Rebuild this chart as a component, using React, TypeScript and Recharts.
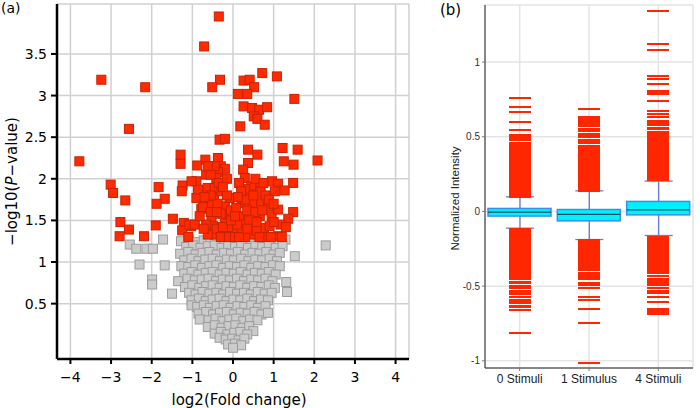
import React from 'react';
import { ScatterChart, Scatter, XAxis, YAxis, CartesianGrid, ComposedChart, Bar, Label } from 'recharts';

// ---------- Panel (a): volcano plot ----------
const significantPoints: [number, number][] = [
  [-0.35, 3.95], [-0.71, 3.59], [-3.24, 3.19], [-2.16, 3.1], [-0.32, 3.19], [-0.51, 3.1], [0.26, 3.18], [0.41, 3.19],
  [0.72, 3.27], [1.08, 3.23], [0.52, 3.1], [0.12, 3.02], [0.35, 3.02], [1.51, 2.96], [0.26, 2.87], [0.47, 2.85],
  [0.64, 2.83], [0.84, 2.86], [0.51, 2.75], [0.6, 2.72], [0.78, 2.65], [0.18, 2.63], [-2.56, 2.6], [-0.33, 2.47],
  [-0.2, 2.48], [1.22, 2.37], [1.59, 2.35], [0.37, 2.35], [0.6, 2.29], [-1.29, 2.29], [-1.29, 2.18], [-3.78, 2.21],
  [2.08, 2.22], [1.25, 2.21], [1.49, 2.17], [0.37, 2.19], [1.48, 1.95], [-3.01, 1.93], [-2.95, 1.83], [-1.83, 1.9],
  [-1.68, 1.76], [-1.88, 1.7], [-2.65, 1.74], [-1.24, 1.92], [-1.26, 1.85], [-2.77, 1.48], [-2.56, 1.39], [-2.79, 1.31],
  [-2.19, 1.31], [-1.9, 1.44], [-1.48, 1.52], [-1.21, 1.47], [-1.03, 1.43], [-1.25, 1.38], [-0.78, 1.64], [-0.9, 1.77],
  [1.48, 1.6], [1.36, 1.52], [1.11, 1.31], [1.17, 1.45],
  [-0.68, 2.23], [-0.37, 2.25], [-0.3, 2.15], [-0.2, 2.12], [-0.88, 2.16], [-0.66, 2.05], [-0.37, 2.08], [-0.41, 2.01],
  [-0.9, 1.97], [0.25, 2.11], [0.29, 2.01], [0.96, 1.97], [1.11, 1.94], [1.03, 1.85], [1.27, 1.86], [0.6, 1.89],
  [0.45, 1.91], [0.41, 1.81], [0.47, 1.71], [-0.62, 1.89], [-0.45, 1.89], [-0.47, 1.77], [-0.57, 1.69], [-0.86, 1.87],
  [-0.74, 1.66], [-1.07, 1.45], [-0.53, 1.53], [-0.49, 1.43], [-0.45, 1.33], [-0.2, 1.67], [-0.2, 1.49], [-0.22, 1.33],
  [-0.08, 1.77], [-0.12, 1.57], [0, 1.39], [0.21, 1.71], [0.16, 1.55], [0.25, 1.45], [0.21, 1.33], [0.37, 1.57],
  [0.45, 1.45], [0.49, 1.33], [0.7, 1.73], [0.66, 1.55], [0.76, 1.41], [0.86, 1.67], [0.95, 1.55], [0.9, 1.43],
  [1.11, 1.63], [-0.94, 1.45], [-0.66, 1.45], [-0.62, 1.33],
  [-0.35, 1.95], [-0.28, 1.85], [-0.15, 1.8], [-0.05, 1.62], [0.08, 1.65], [0.1, 1.45], [0.3, 1.88], [0.35, 1.62],
  [0.55, 1.6], [0.58, 1.38], [0.68, 1.85], [0.8, 1.8], [0.82, 1.3], [-0.3, 1.58], [-0.38, 1.7], [-0.55, 1.8],
  [-0.7, 1.78], [-0.4, 1.4], [-0.3, 1.3], [-0.1, 1.3], [0.05, 1.3], [0.3, 1.3], [0.65, 1.3], [-0.82, 1.55],
  [-0.72, 1.4], [0.3, 1.75], [0.15, 1.95], [0.2, 1.85], [-0.45, 2.15], [-0.55, 2.05], [0.55, 2.0], [0.75, 1.95],
  [0.88, 1.75], [1.0, 1.7], [-1.02, 1.97], [0.93, 1.3], [0.15, 1.3], [-0.62, 2.15], [-0.15, 2.0], [-0.25, 1.9],
  [0.4, 1.5], [0.58, 1.48], [0.72, 1.62], [1.0, 1.48], [-1.1, 1.3], [-0.55, 1.6], [-0.4, 1.6], [1.3, 1.42],
  [1.2, 1.3], [0.12, 1.78], [-0.12, 1.42], [0.35, 1.4], [-0.25, 1.42], [-0.05, 1.5], [0.5, 1.8], [0.05, 1.55],
];

const otherPoints: [number, number][] = [
  [-1.72, 1.27], [-1.28, 1.25], [-1.08, 1.27], [-0.9, 1.24], [-0.72, 1.26], [-0.55, 1.25], [-0.38, 1.27], [-0.2, 1.24],
  [-0.05, 1.26], [0.1, 1.25], [0.28, 1.27], [0.45, 1.24], [0.62, 1.26], [0.8, 1.25], [0.97, 1.27], [1.12, 1.24], [1.29, 1.27],
  [-2.54, 1.21], [-2.38, 1.16], [-2.13, 1.16], [-1.97, 1.16], [-1.15, 1.18], [-0.98, 1.2], [-0.8, 1.17], [-0.62, 1.19],
  [-0.45, 1.2], [-0.28, 1.17], [-0.12, 1.19], [0.05, 1.18], [0.2, 1.2], [0.37, 1.17], [0.55, 1.19], [0.72, 1.18],
  [0.88, 1.2], [1.05, 1.17], [1.22, 1.19], [2.28, 1.2],
  [-1.3, 1.1], [-1.1, 1.12], [-0.92, 1.09], [-0.75, 1.11], [-0.58, 1.12], [-0.4, 1.09], [-0.22, 1.11], [-0.05, 1.1],
  [0.12, 1.12], [0.3, 1.09], [0.48, 1.11], [0.65, 1.1], [0.82, 1.12], [1.0, 1.09], [1.15, 1.11], [1.52, 1.07],
  [-1.2, 1.02], [-1.02, 1.04], [-0.85, 1.01], [-0.68, 1.03], [-0.5, 1.04], [-0.32, 1.01], [-0.15, 1.03], [0.02, 1.02],
  [0.2, 1.04], [0.38, 1.01], [0.55, 1.03], [0.72, 1.02], [0.9, 1.04], [1.08, 1.01],
  [-2.3, 0.97], [-1.68, 0.96], [-1.27, 0.95], [-1.1, 0.94], [-0.93, 0.96], [-0.76, 0.93], [-0.58, 0.95], [-0.41, 0.96],
  [-0.24, 0.93], [-0.08, 0.95], [0.1, 0.94], [0.28, 0.96], [0.45, 0.93], [0.62, 0.95], [0.8, 0.94], [0.98, 0.96], [1.15, 0.95],
  [-1.2, 0.86], [-1.02, 0.88], [-0.85, 0.85], [-0.67, 0.87], [-0.5, 0.88], [-0.33, 0.85], [-0.16, 0.87], [0.02, 0.86],
  [0.19, 0.88], [0.36, 0.85], [0.54, 0.87], [0.71, 0.86], [0.88, 0.88], [1.05, 0.85],
  [-1.99, 0.79], [-1.35, 0.77], [-1.12, 0.8], [-0.94, 0.78], [-0.77, 0.79], [-0.6, 0.8], [-0.42, 0.77], [-0.25, 0.79],
  [-0.08, 0.78], [0.1, 0.8], [0.27, 0.77], [0.45, 0.79], [0.62, 0.78], [0.8, 0.8], [0.97, 0.77], [1.31, 0.76],
  [-1.99, 0.73], [-1.18, 0.7], [-1.0, 0.72], [-0.83, 0.69], [-0.66, 0.71], [-0.5, 0.72], [-0.33, 0.69], [-0.16, 0.71],
  [0.02, 0.7], [0.18, 0.72], [0.35, 0.69], [0.52, 0.71], [0.7, 0.7], [0.88, 0.72], [1.03, 0.69], [1.33, 0.64],
  [-1.5, 0.62], [-1.08, 0.63], [-0.92, 0.61], [-0.75, 0.64], [-0.58, 0.62], [-0.41, 0.63], [-0.24, 0.61], [-0.07, 0.64],
  [0.1, 0.62], [0.27, 0.63], [0.44, 0.61], [0.61, 0.64], [0.78, 0.62], [0.95, 0.63],
  [-1.02, 0.54], [-0.84, 0.56], [-0.67, 0.53], [-0.5, 0.55], [-0.33, 0.56], [-0.16, 0.53], [0.01, 0.55], [0.18, 0.54],
  [0.35, 0.56], [0.52, 0.53], [0.69, 0.55], [0.86, 0.54],
  [-1.02, 0.48], [-0.88, 0.46], [-0.72, 0.48], [-0.57, 0.45], [-0.4, 0.47], [-0.23, 0.48], [-0.06, 0.45], [0.11, 0.47],
  [0.28, 0.46], [0.45, 0.48], [0.62, 0.45], [0.8, 0.47],
  [-0.85, 0.38], [-0.66, 0.4], [-0.49, 0.37], [-0.32, 0.39], [-0.15, 0.4], [0.02, 0.37], [0.19, 0.39], [0.36, 0.38],
  [0.53, 0.4], [0.7, 0.37], [0.86, 0.39],
  [-0.82, 0.31], [-0.6, 0.3], [-0.43, 0.32], [-0.26, 0.29], [-0.09, 0.31], [0.08, 0.32], [0.25, 0.29], [0.42, 0.31], [0.6, 0.3],
  [-0.62, 0.22], [-0.45, 0.24], [-0.28, 0.21], [-0.11, 0.23], [0.06, 0.24], [0.23, 0.21], [0.4, 0.23], [0.5, 0.17],
  [-0.45, 0.14], [-0.3, 0.16], [-0.14, 0.13], [0.03, 0.15], [0.18, 0.16], [0.35, 0.13],
  [-0.33, 0.09], [-0.18, 0.07], [-0.02, 0.08], [0.14, 0.06], [0.28, 0.08],
  [-0.12, 0.01], [0.05, 0.02], [0.2, 0.0], [0.0, -0.03],
];

const volcanoXTicks = [-4, -3, -2, -1, 0, 1, 2, 3, 4];
const volcanoYTicks = [0.5, 1, 1.5, 2, 2.5, 3, 3.5];

// ---------- Panel (b): box plot ----------
const categories = ['0 Stimuli', '1 Stimulus', '4 Stimuli'];
const q1Values = [-0.031, -0.063, -0.023];
const medianValues = [-0.005, -0.02, 0.011];
const q3Values = [0.02, 0.013, 0.067];
const whiskerLowValues = [-0.112, -0.188, -0.161];
const whiskerHighValues = [0.098, 0.138, 0.203];

const outliers0Stimuli = [
  0.10, 0.11, 0.12, 0.13, 0.14, 0.15, 0.16, 0.17, 0.18, 0.19, 0.20, 0.21, 0.22, 0.23, 0.24, 0.25, 0.26, 0.27, 0.28, 0.29,
  0.30, 0.31, 0.32, 0.33, 0.34, 0.35, 0.36, 0.37, 0.38, 0.39, 0.405, 0.415, 0.425, 0.44, 0.45, 0.46, 0.475, 0.49, 0.50,
  0.51, 0.545, 0.60, 0.665, 0.698, 0.761,
  -0.12, -0.13, -0.14, -0.15, -0.16, -0.17, -0.18, -0.19, -0.20, -0.21, -0.22, -0.23, -0.24, -0.25, -0.26, -0.27, -0.28,
  -0.29, -0.30, -0.31, -0.32, -0.335, -0.345, -0.36, -0.37, -0.385, -0.40, -0.415, -0.425, -0.44, -0.455, -0.47, -0.48,
  -0.50, -0.51, -0.53, -0.545, -0.555, -0.575, -0.59, -0.60, -0.615, -0.63, -0.64, -0.66, -0.815,
];
const outliers1Stimulus = [
  0.14, 0.15, 0.16, 0.17, 0.18, 0.19, 0.20, 0.21, 0.22, 0.23, 0.24, 0.25, 0.26, 0.27, 0.28, 0.29, 0.30, 0.31, 0.32, 0.33,
  0.34, 0.35, 0.36, 0.37, 0.38, 0.39, 0.40, 0.41, 0.42, 0.43, 0.44, 0.455, 0.47, 0.48, 0.50, 0.51, 0.52, 0.54, 0.555,
  0.57, 0.58, 0.595, 0.605, 0.62, 0.63, 0.687,
  -0.19, -0.20, -0.21, -0.22, -0.23, -0.24, -0.25, -0.26, -0.27, -0.28, -0.29, -0.30, -0.31, -0.32, -0.33, -0.34, -0.35,
  -0.36, -0.37, -0.38, -0.39, -0.41, -0.425, -0.44, -0.455, -0.48, -0.495, -0.51, -0.57, -0.59, -0.655, -0.745, -1.015,
];
const outliers4Stimuli = [
  0.21, 0.22, 0.23, 0.24, 0.25, 0.26, 0.27, 0.28, 0.29, 0.30, 0.31, 0.32, 0.33, 0.34, 0.35, 0.36, 0.37, 0.38, 0.39, 0.40,
  0.41, 0.42, 0.43, 0.44, 0.45, 0.46, 0.47, 0.48, 0.49, 0.505, 0.515, 0.525, 0.535, 0.55, 0.56, 0.578, 0.593, 0.607,
  0.634, 0.654, 0.672, 0.741, 0.784, 0.792, 0.80, 0.808, 0.853, 0.886, 0.904, 1.078, 1.123, 1.339,
  -0.17, -0.18, -0.19, -0.20, -0.21, -0.22, -0.23, -0.24, -0.25, -0.26, -0.27, -0.28, -0.29, -0.30, -0.31, -0.32, -0.33,
  -0.34, -0.35, -0.36, -0.37, -0.38, -0.39, -0.40, -0.41, -0.43, -0.45, -0.465, -0.48, -0.495, -0.51, -0.53, -0.545,
  -0.57, -0.605, -0.655, -0.665, -0.675, -0.685,
];
const boxYTicks = [-1, -0.5, 0, 0.5, 1];

const significantData = significantPoints.map(([x, y]) => ({ x, y }));
const otherData = otherPoints.map(([x, y]) => ({ x, y }));

const boxData = categories.map((name, i) => ({
  name,
  box: [q1Values[i], q3Values[i]],
  whisker: [whiskerLowValues[i], whiskerHighValues[i]],
  q1: q1Values[i],
  q3: q3Values[i],
  med: medianValues[i],
}));
const outlierData = [outliers0Stimuli, outliers1Stimulus, outliers4Stimuli].flatMap((vals, i) =>
  vals.map((v) => ({ pos: i + 1, v }))
);

const RedSquare = (p: any) => (
  <rect x={p.cx - 4.5} y={p.cy - 4.5} width={9} height={9} fill="#ff2a00" stroke="#c82200" strokeWidth={1} />
);
const GreySquare = (p: any) => (
  <rect x={p.cx - 4.5} y={p.cy - 4.5} width={9} height={9} fill="#cbcbcb" stroke="#9c9c9c" strokeWidth={1} />
);

const minusFmt = (v: number) => (v < 0 ? '\u2212' + Math.abs(v) : String(v));

const VolcanoYTitle = (props: any) => {
  const vb = props.viewBox || { x: 0, y: 0, height: 0 };
  const cx = vb.x + 12;
  const cy = vb.y + vb.height / 2;
  return (
    <text
      x={cx}
      y={cy}
      transform={`rotate(-90 ${cx} ${cy})`}
      textAnchor="middle"
      dominantBaseline="central"
      fontSize={15}
      fontFamily="DejaVu Sans"
      fill="#000"
    >
      {'\u2212log10('}
      <tspan fontStyle="italic">P</tspan>
      {'\u2212value)'}
    </text>
  );
};

const BoxYTitle = (props: any) => {
  const vb = props.viewBox || { x: 0, y: 0, height: 0 };
  const cx = vb.x + 15;
  const cy = vb.y + vb.height / 2 + 12;
  return (
    <text
      x={cx}
      y={cy}
      transform={`rotate(-90 ${cx} ${cy})`}
      textAnchor="middle"
      dominantBaseline="central"
      fontSize={11.5}
      fontFamily="Liberation Sans"
      fill="#222"
    >
      Normalized Intensity
    </text>
  );
};

const WhiskerShape = (p: any) => {
  const top = Math.min(p.y, p.y + p.height);
  const bot = Math.max(p.y, p.y + p.height);
  const cx = p.x + p.width / 2;
  return (
    <g stroke="#6a7ad8" strokeWidth={1.3}>
      <line x1={cx} x2={cx} y1={top} y2={bot} />
      <line x1={p.x} x2={p.x + p.width} y1={top} y2={top} />
      <line x1={p.x} x2={p.x + p.width} y1={bot} y2={bot} />
    </g>
  );
};

const BoxShape = (p: any) => {
  const d = p.payload || p;
  const top = Math.min(p.y, p.y + p.height);
  const h = Math.abs(p.height);
  const my = top + (h * (d.q3 - d.med)) / (d.q3 - d.q1);
  return (
    <g>
      <rect x={p.x} y={top} width={p.width} height={h} fill="#00f0ff" stroke="#3a90e6" strokeWidth={1.5} />
      <line x1={p.x} x2={p.x + p.width} y1={my} y2={my} stroke="#1c4d5e" strokeWidth={1.3} />
    </g>
  );
};

const DashShape = (p: any) => (
  <line
    x1={p.cx - 11}
    x2={p.cx + 11}
    y1={p.cy}
    y2={p.cy}
    stroke="#ff2600"
    strokeWidth={2}
    shapeRendering="crispEdges"
  />
);

export default function App() {
  return (
    <div style={{ position: 'absolute', left: 0, top: 0, width: 700, height: 408, background: '#fff', overflow: 'hidden' }}>
      <div style={{ position: 'absolute', left: 0, top: 0 }}>
        <ScatterChart width={420} height={408} margin={{ top: 4, right: 11, bottom: 0, left: 0 }}>
          <CartesianGrid stroke="#d0d0d0" strokeWidth={1.5} />
          <XAxis
            type="number"
            dataKey="x"
            domain={[-4.33, 4.33]}
            ticks={volcanoXTicks}
            allowDataOverflow
            height={49}
            tickSize={5}
            tickMargin={8}
            tickFormatter={minusFmt}
            axisLine={{ stroke: '#000', strokeWidth: 2.5 }}
            tickLine={{ stroke: '#000', strokeWidth: 2 }}
            tick={{ fontSize: 14, fill: '#000', fontFamily: 'DejaVu Sans' }}
          >
            <Label value="log2(Fold change)" position="insideBottom" offset={3} dx={6} fontSize={15} fontFamily="DejaVu Sans" fill="#000" />
          </XAxis>
          <XAxis
            xAxisId="top"
            orientation="top"
            type="number"
            domain={[-4.33, 4.33]}
            height={0}
            tick={false}
            tickLine={false}
            axisLine={{ stroke: '#000', strokeWidth: 2.5 }}
          />
          <YAxis
            type="number"
            dataKey="y"
            domain={[-0.165, 4.1]}
            ticks={volcanoYTicks}
            allowDataOverflow
            width={57}
            tickSize={6}
            tickMargin={4}
            axisLine={{ stroke: '#000', strokeWidth: 2.5 }}
            tickLine={{ stroke: '#000', strokeWidth: 2 }}
            tick={{ fontSize: 14, fill: '#000', fontFamily: 'DejaVu Sans' }}
          >
            <Label content={VolcanoYTitle} />
          </YAxis>
          <YAxis
            yAxisId="right"
            orientation="right"
            type="number"
            domain={[-0.165, 4.1]}
            width={0}
            tick={false}
            tickLine={false}
            axisLine={{ stroke: '#000', strokeWidth: 2.5 }}
          />
          <Scatter data={otherData} shape={GreySquare} isAnimationActive={false} />
          <Scatter data={significantData} shape={RedSquare} isAnimationActive={false} />
        </ScatterChart>
      </div>
      <div style={{ position: 'absolute', left: 1, top: 0, fontFamily: 'DejaVu Sans', fontSize: 14, lineHeight: '16px' }}>(a)</div>

      <div style={{ position: 'absolute', left: 440, top: 0 }}>
        <ComposedChart width={260} height={408} data={boxData} margin={{ top: 5, right: 7, bottom: 0, left: 0 }}>
          <CartesianGrid stroke="#e4e4e4" strokeWidth={1.5} />
          <XAxis
            dataKey="name"
            type="category"
            height={40}
            tickSize={3}
            tickMargin={3}
            axisLine={{ stroke: '#222', strokeWidth: 1 }}
            tickLine={{ stroke: '#777' }}
            tick={{ fontSize: 12, fill: '#222', fontFamily: 'Liberation Sans' }}
          />
          <XAxis xAxisId="w" dataKey="name" type="category" hide />
          <XAxis xAxisId="num" dataKey="pos" type="number" domain={[0.5, 3.5]} hide />
          <XAxis
            xAxisId="top"
            orientation="top"
            dataKey="name"
            type="category"
            height={0}
            tick={false}
            tickLine={false}
            axisLine={{ stroke: '#222', strokeWidth: 1 }}
          />
          <YAxis
            type="number"
            domain={[-1.048, 1.382]}
            ticks={boxYTicks}
            allowDataOverflow
            width={45}
            tickSize={3}
            tickMargin={2}
            axisLine={{ stroke: '#222', strokeWidth: 1 }}
            tickLine={{ stroke: '#777' }}
            tick={{ fontSize: 10, fill: '#333', fontFamily: 'Liberation Sans' }}
          >
            <Label content={BoxYTitle} />
          </YAxis>
          <YAxis
            yAxisId="r"
            orientation="right"
            type="number"
            domain={[-1.048, 1.382]}
            width={0}
            tick={false}
            tickLine={false}
            axisLine={{ stroke: '#222', strokeWidth: 1 }}
          />
          <Scatter xAxisId="num" data={outlierData} dataKey="v" shape={DashShape} isAnimationActive={false} />
          <Bar xAxisId="w" dataKey="whisker" barSize={28} shape={WhiskerShape} isAnimationActive={false} />
          <Bar dataKey="box" barSize={63} shape={BoxShape} isAnimationActive={false} />
        </ComposedChart>
      </div>
      <div style={{ position: 'absolute', left: 440, top: 2, fontFamily: 'DejaVu Sans', fontSize: 15, lineHeight: '16px' }}>(b)</div>
    </div>
  );
}
